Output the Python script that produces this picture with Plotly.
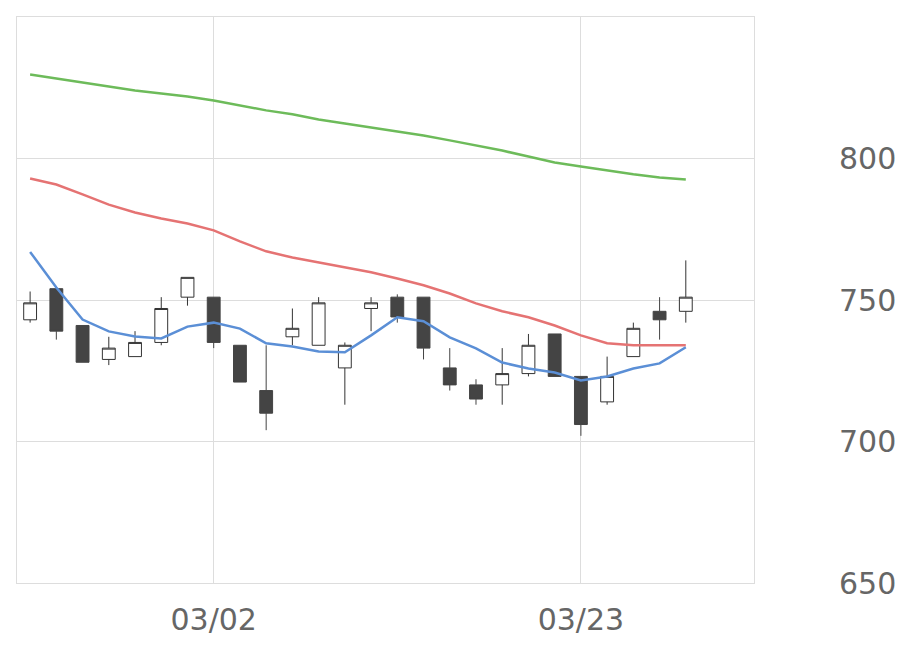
import plotly.graph_objects as go

idx = list(range(26))
opens = [743, 754, 741, 729, 730, 735, 751, 751, 734, 718, 737, 734, 726, 747, 751, 751, 726, 720, 720, 724, 738, 723, 714, 730, 746, 746]
highs = [753, 754, 741, 737, 739, 751, 758, 751, 734, 734, 747, 751, 735, 751, 752, 751, 733, 722, 733, 738, 738, 723, 730, 742, 751, 764]
lows = [742, 736, 728, 727, 730, 734, 748, 733, 721, 704, 734, 734, 713, 739, 742, 729, 718, 713, 713, 723, 723, 702, 713, 730, 736, 742]
closes = [749, 739, 728, 733, 735, 747, 758, 735, 721, 710, 740, 749, 734, 749, 744, 733, 720, 715, 724, 734, 723, 706, 723, 740, 743, 751]
ma_short = [767, 754.4, 743.1, 738.9, 737.1, 736.4, 740.6, 742, 739.9, 734.7, 733.6, 731.8, 731.5, 737.5, 743.9, 742.5, 736.8, 732.9, 727.9, 725.8, 724.4, 721.6, 723, 725.8, 727.6, 733.3]
ma_mid = [792.9, 790.8, 787.3, 783.7, 780.9, 778.8, 777, 774.6, 770.7, 767.2, 765, 763.3, 761.5, 759.8, 757.6, 755.2, 752.3, 748.8, 746, 743.9, 741, 737.5, 734.7, 734, 734, 734]
ma_long = [829.7, 828.3, 826.8, 825.4, 824, 823, 821.9, 820.5, 818.7, 817, 815.6, 813.8, 812.4, 811, 809.5, 808.1, 806.4, 804.6, 802.8, 800.7, 798.6, 797.2, 795.8, 794.4, 793.3, 792.6]
tick_pos = [7, 21]
tick_text = ['03/02', '03/23']

fig = go.Figure()
fig.add_trace(go.Candlestick(
    x=idx, open=opens, high=highs, low=lows, close=closes,
    increasing=dict(fillcolor='white', line=dict(color='#333333', width=1)),
    decreasing=dict(fillcolor='#444444', line=dict(color='#444444', width=1)),
    whiskerwidth=0, hoverinfo='skip'
))
for vals, col in [(ma_long, '#6dbb5a'), (ma_mid, '#e57373'), (ma_short, '#5b8fd6')]:
    fig.add_trace(go.Scatter(x=idx, y=vals, mode='lines', line=dict(color=col, width=2.5)))

fig.update_layout(
    width=920, height=669,
    plot_bgcolor='white', paper_bgcolor='white',
    showlegend=False,
    margin=dict(l=9, r=174, t=9, b=94),
    font=dict(family='DejaVu Sans', color='#666666', size=30),
    xaxis=dict(
        range=[-0.5, 27.6], rangeslider=dict(visible=False),
        tickvals=tick_pos, ticktext=tick_text, ticks='', ticklabelstandoff=10,
        showgrid=True, gridcolor='#dddddd', gridwidth=1,
        showline=True, linecolor='#dddddd', mirror=True, zeroline=False,
    ),
    yaxis=dict(
        range=[650, 850], side='right', tickvals=[650, 700, 750, 800],
        ticks='', ticklabelstandoff=78,
        showgrid=True, gridcolor='#dddddd', gridwidth=1,
        showline=True, linecolor='#dddddd', mirror=True, zeroline=False,
    ),
)

fig.write_html("out.html")
